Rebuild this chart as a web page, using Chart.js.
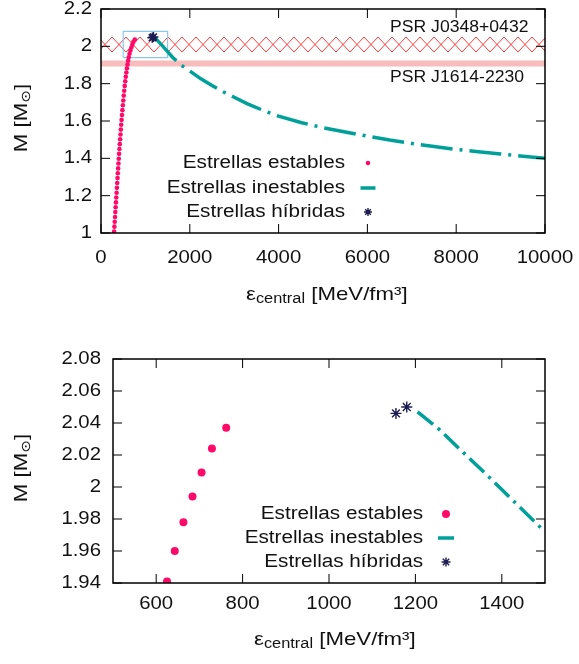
<!DOCTYPE html>
<html>
<head>
<meta charset="utf-8">
<script src="https://cdn.jsdelivr.net/npm/chart.js@4.4.1/dist/chart.umd.min.js"></script>
<style>
  html, body { margin: 0; padding: 0; background: #fff; }
  canvas { position: absolute; left: 0; }
  #chartTop { top: 0; }
  #chartBottom { top: 320px; }
</style>
</head>
<body>
<canvas id="chartTop" width="579" height="320"></canvas>
<canvas id="chartBottom" width="579" height="344"></canvas>
<script>
// --- stable stars (central energy density [MeV/fm3], mass [Msun]) ---
const stableEps = [295, 302, 309, 316, 323, 330, 337, 344, 351, 358, 365, 372, 379, 386, 393,
    400, 407, 415, 423, 431, 439, 447, 455, 464, 473, 482, 492, 502, 512, 523, 534, 546, 558,
    571, 584, 597, 611, 625, 643, 663, 684, 705, 729, 762];
const stableMass = [1.008, 1.034, 1.060, 1.086, 1.112, 1.138, 1.164, 1.190, 1.216, 1.242, 1.268,
    1.294, 1.320, 1.346, 1.372, 1.398, 1.424, 1.450, 1.476, 1.502, 1.528, 1.554, 1.580, 1.606,
    1.632, 1.658, 1.684, 1.710, 1.736, 1.762, 1.788, 1.813, 1.837, 1.860, 1.882, 1.903, 1.923,
    1.941, 1.960, 1.978, 1.994, 2.009, 2.024, 2.037];

// --- unstable branch ---
const unstableEps = [1205, 1255, 1375, 1500, 1610, 1800, 2000, 2250, 2500, 2750, 3000, 3300, 3650,
    4000, 4500, 5000, 5500, 6000, 6500, 7000, 7500, 8000, 8500, 9000, 9500, 10000];
const unstableMass = [2.047, 2.036, 2.005, 1.972, 1.942, 1.900, 1.868, 1.826, 1.790, 1.757, 1.727,
    1.692, 1.657, 1.626, 1.592, 1.564, 1.541, 1.519, 1.498, 1.480, 1.463, 1.448, 1.435, 1.423,
    1.411, 1.400];

// --- hybrid stars ---
const hybridEps = [1155, 1180];
const hybridMass = [2.046, 2.050];

// pulsar mass bands
const psrNames = ['PSR J0348+0432', 'PSR J1614-2230'];
const psrLow = [1.97, 1.892];
const psrHigh = [2.05, 1.924];

// window shown in the lower panel
const zoomEps = [500, 1500];
const zoomMass = [1.94, 2.08];

// ticks
const topXTicks = [0, 2000, 4000, 6000, 8000, 10000];
const topYTicks = [1, 1.2, 1.4, 1.6, 1.8, 2, 2.2];
const bottomXTicks = [600, 800, 1000, 1200, 1400];
const bottomYTicks = [1.94, 1.96, 1.98, 2, 2.02, 2.04, 2.06, 2.08];

const legendLabels = ['Estrellas estables', 'Estrellas inestables', 'Estrellas híbridas'];

const PINK = '#ff0a68';
const TEAL = '#00a09a';
const NAVY = '#1c1c52';
const SKY = '#8cc8ee';
const BAND = '#f7bcbc';
const HATCH = '#ff3a3a';
const FONT = '"Liberation Sans", Arial, "DejaVu Sans", sans-serif';

const toPts = (xs, ys) => xs.map((x, i) => ({ x, y: ys[i] }));

// red X hatch for the J0348 band
function makeHatch() {
    const c = document.createElement('canvas');
    c.width = 14; c.height = 15;
    const g = c.getContext('2d');
    g.strokeStyle = HATCH;
    g.lineWidth = 1;
    g.beginPath();
    g.moveTo(0, 0); g.lineTo(14, 15);
    g.moveTo(14, 0); g.lineTo(0, 15);
    g.stroke();
    return g.createPattern(c, 'repeat');
}
const hatch = makeHatch();

// text with a bit of horizontal stretch, parts = [text, size, dy]
function drawRich(ctx, parts, x, y, align, sx) {
    let total = 0;
    const widths = parts.map(([t, size]) => {
        ctx.font = size + 'px ' + FONT;
        const w = ctx.measureText(t).width;
        total += w;
        return w;
    });
    total *= sx;
    const x0 = align === 'right' ? x - total : align === 'center' ? x - total / 2 : x;
    ctx.save();
    ctx.translate(x0, y);
    ctx.scale(sx, 1);
    ctx.fillStyle = '#111';
    ctx.textAlign = 'left';
    ctx.textBaseline = 'middle';
    let cx = 0;
    parts.forEach(([t, size, dy], i) => {
        ctx.font = size + 'px ' + FONT;
        ctx.fillText(t, cx, dy || 0);
        cx += widths[i];
    });
    ctx.restore();
}

function drawStar(ctx, x, y, r, color, lw) {
    ctx.save();
    ctx.strokeStyle = color;
    ctx.lineWidth = lw;
    ctx.beginPath();
    for (let k = 0; k < 4; k++) {
        const a = k * Math.PI / 4;
        ctx.moveTo(x - r * Math.cos(a), y - r * Math.sin(a));
        ctx.lineTo(x + r * Math.cos(a), y + r * Math.sin(a));
    }
    ctx.stroke();
    ctx.restore();
}

const decor = {
    id: 'decor',
    beforeDatasetsDraw(chart, args, o) {
        if (o.hatchTop !== undefined) {
            const top = chart.scales.y.getPixelForValue(o.hatchTop);
            hatch.setTransform(new DOMMatrix().translate(0, top));
        }
    },
    afterDraw(chart, args, o) {
        const ctx = chart.ctx;
        const a = chart.chartArea;
        const xs = chart.scales.x, ys = chart.scales.y;

        // frame
        ctx.save();
        ctx.strokeStyle = '#000';
        ctx.lineWidth = 1.5;
        ctx.strokeRect(a.left, a.top, a.right - a.left, a.bottom - a.top);

        // inward ticks on all four sides
        ctx.lineWidth = 1;
        ctx.beginPath();
        o.xTicks.forEach(v => {
            const p = xs.getPixelForValue(v);
            ctx.moveTo(p, a.bottom); ctx.lineTo(p, a.bottom - 9);
            ctx.moveTo(p, a.top); ctx.lineTo(p, a.top + 9);
        });
        o.yTicks.forEach(v => {
            const p = ys.getPixelForValue(v);
            ctx.moveTo(a.left, p); ctx.lineTo(a.left + 9, p);
            ctx.moveTo(a.right, p); ctx.lineTo(a.right - 9, p);
        });
        ctx.stroke();
        ctx.restore();

        // tick labels
        o.xTicks.forEach(v => {
            drawRich(ctx, [[String(v), 18.5]], xs.getPixelForValue(v), o.xLabelY, 'center', 1.1);
        });
        o.yTicks.forEach(v => {
            drawRich(ctx, [[String(v), 18.5]], a.left - o.yLabelGap, ys.getPixelForValue(v), 'right', 1.1);
        });

        // axis titles
        drawRich(ctx, [['ε', 19], ['central', 14, 4], [' [MeV/fm³]', 19]], o.xTitle[0], o.xTitle[1], 'left', 1.17);
        ctx.save();
        ctx.translate(o.yTitle[0], o.yTitle[1]);
        ctx.rotate(-Math.PI / 2);
        drawRich(ctx, [['M [M', 19], ['⊙', 13, 4], [']', 19]], 0, 0, 'center', 1.17);
        ctx.restore();

        // legend: text right aligned, sample on the right
        const L = o.legend;
        legendLabels.forEach((t, i) => {
            drawRich(ctx, [[t, 18]], L.right, L.rows[i], 'right', 1.15);
        });
        ctx.save();
        ctx.fillStyle = PINK;
        ctx.beginPath();
        ctx.arc(L.symX, L.rows[0], L.dot, 0, Math.PI * 2);
        ctx.fill();
        ctx.strokeStyle = TEAL;
        ctx.lineWidth = 3.5;
        ctx.beginPath();
        ctx.moveTo(L.symX - L.line / 2, L.rows[1]);
        ctx.lineTo(L.symX + L.line / 2, L.rows[1]);
        ctx.stroke();
        ctx.restore();
        drawStar(ctx, L.symX, L.rows[2], L.star, NAVY, 1.4);

        // pulsar labels
        if (o.psr) {
            drawRich(ctx, [[psrNames[0], 16]], o.psr[0], o.psr[1], 'left', 1.1);
            drawRich(ctx, [[psrNames[1], 16]], o.psr[0], o.psr[2], 'left', 1.1);
        }
    }
};

function baseScales(xMin, xMax, yMin, yMax, yWidth, xHeight) {
    const hidden = { display: false, drawTicks: false };
    return {
        x: {
            type: 'linear', min: xMin, max: xMax,
            grid: hidden, border: { display: false }, ticks: { display: false },
            afterFit: s => { s.height = xHeight; }
        },
        y: {
            type: 'linear', min: yMin, max: yMax,
            grid: hidden, border: { display: false }, ticks: { display: false },
            afterFit: s => { s.width = yWidth; }
        }
    };
}

const zoomBox = toPts(
    [zoomEps[0], zoomEps[1], zoomEps[1], zoomEps[0], zoomEps[0]],
    [zoomMass[0], zoomMass[0], zoomMass[1], zoomMass[1], zoomMass[0]]
);

// upper panel
new Chart(document.getElementById('chartTop'), {
    type: 'line',
    data: {
        datasets: [
            { label: legendLabels[2], data: toPts(hybridEps, hybridMass), showLine: false,
              pointStyle: 'star', pointRadius: 5, pointBorderColor: NAVY, pointBorderWidth: 1.6, order: 1 },
            { label: legendLabels[0], data: toPts(stableEps, stableMass), showLine: false,
              pointRadius: 2.3, pointBackgroundColor: PINK, pointBorderColor: PINK, pointBorderWidth: 0, order: 2 },
            { label: legendLabels[1], data: toPts(unstableEps, unstableMass), borderColor: TEAL,
              borderWidth: 3.5, borderDash: [32, 7, 3, 7], pointRadius: 0, order: 3 },
            { label: 'zoom', data: zoomBox, borderColor: SKY, borderWidth: 1.2, pointRadius: 0, order: 4 },
            { label: psrNames[0] + ' low', data: toPts([0, 10000], [psrLow[0], psrLow[0]]),
              borderColor: 'rgba(0,0,0,0)', pointRadius: 0, order: 5 },
            { label: psrNames[0], data: toPts([0, 10000], [psrHigh[0], psrHigh[0]]),
              borderColor: 'rgba(0,0,0,0)', pointRadius: 0, fill: '-1', backgroundColor: hatch, order: 5 },
            { label: psrNames[1] + ' low', data: toPts([0, 10000], [psrLow[1], psrLow[1]]),
              borderColor: 'rgba(0,0,0,0)', pointRadius: 0, order: 6 },
            { label: psrNames[1], data: toPts([0, 10000], [psrHigh[1], psrHigh[1]]),
              borderColor: 'rgba(0,0,0,0)', pointRadius: 0, fill: '-1', backgroundColor: BAND, order: 6 }
        ]
    },
    options: {
        responsive: false,
        animation: false,
        events: [],
        layout: { padding: { left: 0, top: 9, right: 34, bottom: 0 } },
        scales: baseScales(0, 10000, 1, 2.2, 101, 87),
        plugins: {
            legend: { display: false },
            tooltip: { enabled: false },
            decor: {
                xTicks: topXTicks, yTicks: topYTicks,
                xLabelY: 258, yLabelGap: 9,
                xTitle: [246, 295], yTitle: [22, 118],
                legend: { right: 345, symX: 368, rows: [163, 188, 212], dot: 2.3, line: 15, star: 4 },
                psr: [390, 28, 78],
                hatchTop: psrHigh[0]
            }
        }
    },
    plugins: [decor]
});

// lower panel (zoom)
new Chart(document.getElementById('chartBottom'), {
    type: 'line',
    data: {
        datasets: [
            { label: legendLabels[2], data: toPts(hybridEps, hybridMass), showLine: false,
              pointStyle: 'star', pointRadius: 5.5, pointBorderColor: NAVY, pointBorderWidth: 1.4, order: 1 },
            { label: legendLabels[0], data: toPts(stableEps, stableMass), showLine: false,
              pointRadius: 4, pointBackgroundColor: PINK, pointBorderColor: PINK, pointBorderWidth: 0, order: 2 },
            { label: legendLabels[1], data: toPts(unstableEps, unstableMass), borderColor: TEAL,
              borderWidth: 3.5, borderDash: [20, 6, 3, 6], pointRadius: 0, order: 3 }
        ]
    },
    options: {
        responsive: false,
        animation: false,
        events: [],
        layout: { padding: { left: 0, top: 39, right: 34, bottom: 0 } },
        scales: baseScales(zoomEps[0], zoomEps[1], zoomMass[0], zoomMass[1], 113, 81),
        plugins: {
            legend: { display: false },
            tooltip: { enabled: false },
            decor: {
                xTicks: bottomXTicks, yTicks: bottomYTicks,
                xLabelY: 284, yLabelGap: 12,
                xTitle: [254, 320], yTitle: [22, 148],
                legend: { right: 423, symX: 446, rows: [194, 218, 242], dot: 4, line: 16, star: 4.5 },
                psr: null
            }
        }
    },
    plugins: [decor]
});
</script>
</body>
</html>
